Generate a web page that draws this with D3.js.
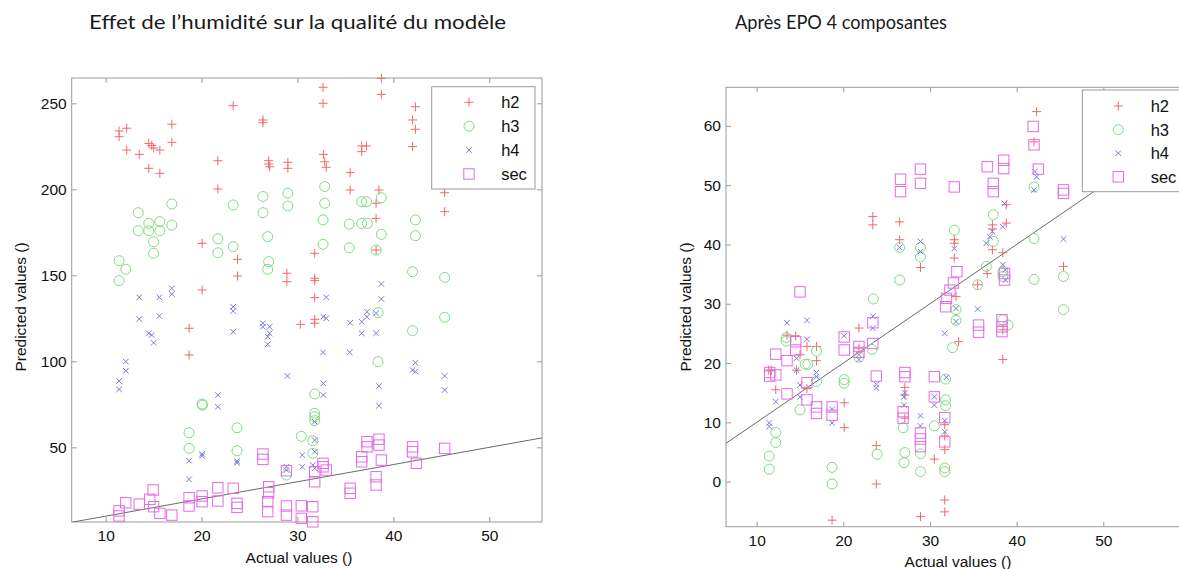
<!DOCTYPE html>
<html>
<head>
<meta charset="utf-8">
<script src="https://cdn.jsdelivr.net/npm/d3@7"></script>
<style>
  html, body { margin: 0; padding: 0; background: #ffffff; }
  svg { display: block; }
  .tick text { font-family: "Liberation Sans", Arial, sans-serif; font-size: 15.5px; fill: #111; }
</style>
</head>
<body>
<svg id="chart" width="1179" height="569"></svg>
<script>
// ---- Data: [actual, predicted] per sample ----
const seriesNames = ["h2", "h3", "h4", "sec"];
const xTicks = [10, 20, 30, 40, 50];
const yTicksLeft = [50, 100, 150, 200, 250];
const yTicksRight = [0, 10, 20, 30, 40, 50, 60];

// Humidity effect, raw model
const h2Raw = [
  [11.4,233.9],[11.4,230.6],[12.2,235.5],[12.2,222.8],[13.5,220.3],[14.5,226.7],[14.8,225.5],[15.0,224.0],
  [14.5,212.2],[15.65,222.8],[15.65,209.3],[16.9,237.8],[16.9,227.3],[18.7,119.2],[18.7,103.7],[20.06,168.6],
  [20.06,141.5],[21.7,216.6],[21.7,200.2],[23.3,248.6],[23.75,159.3],[23.75,149.6],[26.4,240.3],[26.4,238.7],
  [27.0,216.6],[27.0,214.7],[27.1,213.1],[29.0,215.7],[29.0,212.2],[28.9,151.2],[28.9,146.3],[30.3,121.5],
  [31.8,162.8],[31.8,148.3],[31.8,146.9],[31.8,137.0],[31.8,122.1],[31.8,124.4],[32.67,259.3],[32.67,250.0],
  [32.7,220.3],[32.85,216.0],[33.0,212.8],[35.5,209.7],[35.5,199.6],[36.7,225.2],[37.2,225.2],[36.7,221.9],
  [38.2,191.9],[38.2,183.1],[38.2,164.7],[38.5,199.6],[38.75,264.5],[38.75,255.2],[42.0,240.3],[42.3,248.0],
  [42.3,234.9],[42.0,224.8],[45.35,198.0],[45.35,187.0]
];
const h3Raw = [
  [11.4,158.5],[12.1,153.5],[11.4,146.9],[13.4,186.4],[13.4,175.9],[14.5,180.2],[14.5,175.9],[15.65,181.2],
  [15.65,175.9],[15.0,169.5],[15.0,162.8],[16.9,191.5],[16.9,179.2],[18.7,58.5],[18.7,49.4],[20.06,75.2],
  [20.1,74.5],[21.7,171.2],[21.7,163.1],[23.3,190.9],[23.3,166.6],[23.7,61.4],[23.7,48.0],[26.4,195.8],
  [26.4,186.4],[26.9,172.5],[27.0,157.9],[26.9,153.5],[28.85,33.9],[29.0,197.7],[29.0,190.3],[30.4,56.4],
  [31.8,81.0],[31.8,69.8],[31.8,67.8],[31.8,65.5],[31.6,53.8],[31.6,46.5],[32.84,201.6],[32.84,191.9],
  [32.67,182.2],[32.67,168.0],[35.4,179.8],[35.4,166.0],[36.7,192.8],[37.2,192.8],[36.7,180.2],[37.3,180.2],
  [38.75,195.1],[38.75,173.8],[38.2,164.7],[38.4,128.3],[38.4,99.8],[42.3,182.2],[42.3,173.0],[42.0,152.1],
  [42.0,117.8],[45.35,148.8],[45.35,125.6]
];
const h4Raw = [
  [11.4,88.5],[11.4,83.7],[12.1,99.8],[12.1,94.5],[13.5,137.2],[13.5,124.6],[14.5,116.3],[14.8,115.3],
  [15.0,110.8],[15.6,137.2],[15.6,126.3],[16.9,142.4],[16.9,139.1],[18.7,42.2],[18.7,31.4],[20.06,46.1],
  [20.06,45.1],[21.7,80.4],[21.7,73.6],[23.3,131.7],[23.3,129.2],[23.3,117.2],[23.7,42.0],[23.7,41.0],
  [26.4,122.1],[26.4,120.1],[27.1,120.1],[27.1,116.3],[26.9,114.3],[26.9,109.9],[28.95,91.5],[28.85,38.7],
  [28.85,36.8],[30.5,45.5],[30.5,38.7],[31.6,39.7],[31.8,37.8],[31.8,64.9],[31.8,54.2],[31.8,47.4],
  [32.7,125.9],[33.0,125.0],[33.0,137.2],[32.67,105.2],[32.7,87.2],[32.7,80.4],[35.5,122.4],[35.45,105.2],
  [36.7,123.0],[36.7,116.3],[37.25,128.8],[37.25,125.9],[38.2,127.9],[38.2,116.3],[38.5,85.6],[38.5,74.2],
  [38.75,145.0],[38.75,136.2],[42.0,94.9],[42.3,94.0],[42.3,99.2],[45.35,91.5],[45.35,83.3]
];
const secRaw = [
  [11.4,13.1],[11.4,10.1],[12.1,17.8],[13.5,17.0],[14.95,25.2],[14.6,19.8],[15.0,15.5],[15.65,11.6],
  [16.9,10.6],[18.7,20.7],[18.7,15.9],[20.06,21.7],[20.06,18.4],[21.7,26.5],[21.7,18.8],[23.3,26.2],
  [23.7,17.4],[23.7,15.1],[26.4,46.1],[26.4,43.0],[27.0,27.1],[27.0,23.6],[26.9,18.4],[26.9,12.6],
  [28.85,36.4],[28.85,15.9],[28.85,10.6],[30.4,16.0],[30.4,8.7],[31.6,15.5],[31.6,6.7],[31.8,30.0],
  [31.8,35.8],[32.67,40.7],[32.67,38.7],[33.0,36.8],[35.5,26.2],[35.5,23.3],[36.7,44.5],[36.7,41.6],
  [37.25,53.3],[37.25,50.3],[38.5,54.7],[38.5,51.3],[38.75,42.6],[38.2,32.9],[38.2,28.1],[42.0,50.3],
  [42.0,47.4],[42.4,40.7],[45.35,49.4]
];

// After EPO, 4 components
const h2Epo = [
  [11.4,18.8],[11.7,18.8],[12.2,15.5],[13.5,24.7],[14.5,24.6],[14.6,18.8],[15.0,21.4],[15.8,22.8],
  [15.8,15.7],[16.9,22.8],[16.9,20.4],[18.7,-6.5],[20.1,13.3],[20.1,9.1],[21.8,25.9],[21.8,22.5],
  [23.4,44.7],[23.4,43.3],[23.8,6.1],[23.8,-0.4],[26.5,43.8],[26.5,40.8],[27.1,15.9],[27.1,14.6],
  [27.1,10.7],[28.9,36.1],[28.9,-5.9],[30.5,3.8],[31.7,9.6],[31.7,7.7],[31.7,5.4],[31.7,-3.1],
  [31.7,-5.1],[32.8,40.8],[32.8,40.2],[32.8,37.7],[33.0,31.2],[33.3,23.6],[35.5,33.2],[36.6,35.1],
  [37.2,43.3],[37.2,42.6],[37.2,39.1],[38.4,38.6],[38.4,20.6],[38.4,25.6],[38.8,46.7],[38.8,43.6],
  [42.0,57.3],[42.3,62.4],[45.4,36.3]
];
const h3Epo = [
  [11.45,4.3],[11.45,2.1],[12.2,8.3],[12.2,6.6],[13.4,24.3],[13.4,23.7],[15.0,12.1],[15.6,19.8],
  [15.9,19.8],[16.9,22.0],[16.9,16.9],[18.7,2.4],[18.7,-0.4],[20.1,17.2],[20.1,16.6],[21.8,21.0],
  [23.3,22.3],[23.45,30.8],[23.9,4.6],[26.5,39.5],[26.5,34.0],[26.9,9.1],[27.1,4.9],[27.0,3.2],
  [28.9,39.5],[28.9,37.9],[28.9,4.7],[28.9,1.7],[30.5,9.4],[31.8,17.3],[31.8,13.8],[31.8,12.8],
  [31.7,2.3],[31.7,1.7],[32.6,22.6],[32.8,42.4],[33.0,29.0],[33.0,27.2],[35.5,33.2],[36.5,36.3],
  [37.3,45.0],[37.3,40.5],[38.4,35.4],[38.4,34.6],[38.4,27.3],[39.0,26.4],[42.0,49.7],[42.0,41.0],
  [42.0,34.1],[45.4,34.6],[45.4,29.0]
];
const h4Epo = [
  [11.45,9.9],[11.45,9.3],[12.2,13.5],[13.5,26.8],[14.6,20.8],[14.6,18.8],[15.0,16.3],[15.0,14.3],
  [15.8,27.2],[15.8,24.0],[16.9,18.4],[16.9,17.7],[18.7,12.2],[18.7,9.9],[20.1,24.6],[21.8,21.4],
  [21.8,20.6],[23.4,27.9],[23.4,25.9],[23.8,16.4],[23.8,15.8],[26.5,39.5],[27.1,15.0],[27.0,14.3],
  [27.0,12.9],[28.9,40.5],[28.9,38.8],[28.9,11.1],[28.9,9.4],[30.5,14.3],[30.5,12.9],[31.9,17.6],
  [31.7,10.3],[31.7,8.4],[31.7,25.0],[32.8,39.3],[33.0,29.2],[33.0,27.0],[35.5,29.1],[36.9,41.3],
  [37.2,42.2],[36.5,40.2],[38.4,43.0],[38.6,46.9],[38.4,36.6],[38.7,35.7],[38.7,34.0],[42.1,52.3],
  [42.3,51.4],[42.0,49.2],[45.4,40.9]
];
const secEpo = [
  [11.5,18.4],[11.5,17.8],[12.2,21.5],[12.2,18.0],[13.5,20.4],[13.5,14.8],[14.5,23.6],[14.5,22.2],
  [15.0,32.0],[15.8,16.7],[15.8,13.8],[16.9,12.6],[16.9,11.5],[18.7,12.6],[18.7,11.2],[20.1,24.4],
  [20.1,22.2],[21.8,22.8],[21.8,21.8],[23.4,26.8],[23.4,23.3],[23.8,17.8],[26.6,51.0],[26.6,48.9],
  [27.1,18.4],[27.1,17.7],[26.9,11.8],[26.9,10.7],[28.9,52.7],[28.9,50.3],[28.9,8.2],[28.9,7.2],
  [28.9,5.9],[30.5,17.7],[30.5,14.3],[31.7,10.8],[31.7,6.7],[31.8,29.5],[32.3,32.3],[31.9,30.9],
  [32.8,49.7],[33.1,35.4],[32.7,33.5],[35.6,26.4],[35.6,25.2],[36.6,53.1],[37.3,50.3],[37.3,48.9],
  [38.3,27.3],[38.3,26.1],[38.3,25.3],[38.5,54.2],[38.5,52.8],[38.6,35.1],[38.6,34.0],[41.9,59.9],
  [42.0,56.8],[42.5,52.7],[45.4,49.2],[45.4,48.6]
];

// ---- Styling ----
const colors = { h2: "#f06a6a", h3: "#7edc7e", h4: "#7a7ae0", sec: "#e46ae6" };
const frameColor = "#9a9a9a";

const svg = d3.select("#chart");

// Marker glyphs, centred on (0,0)
function drawMarker(sel, name) {
  const c = colors[name];
  if (name === "h2") {
    sel.append("path").attr("d", "M-4.5,0H4.5M0,-4.5V4.5")
      .attr("stroke", c).attr("stroke-width", 1).attr("fill", "none");
  } else if (name === "h3") {
    sel.append("circle").attr("r", 5)
      .attr("stroke", c).attr("stroke-width", 1).attr("fill", "none");
  } else if (name === "h4") {
    sel.append("path").attr("d", "M-2.8,-2.8L2.8,2.8M-2.8,2.8L2.8,-2.8")
      .attr("stroke", c).attr("stroke-width", 1).attr("fill", "none");
  } else {
    sel.append("rect").attr("x", -5.2).attr("y", -5.2).attr("width", 10.4).attr("height", 10.4)
      .attr("stroke", c).attr("stroke-width", 1).attr("fill", "none");
  }
}

function drawPanel(cfg) {
  const g = svg.append("g");
  const x = d3.scaleLinear().domain(cfg.xDomain).range([cfg.left, cfg.right]);
  const y = d3.scaleLinear().domain(cfg.yDomain).range([cfg.bottom, cfg.top]);

  const clipId = "clip-" + cfg.id;
  svg.append("defs").append("clipPath").attr("id", clipId)
    .append("rect").attr("x", cfg.left).attr("y", cfg.top)
    .attr("width", cfg.right - cfg.left).attr("height", cfg.bottom - cfg.top);

  // axes (ticks point inwards, box on all sides)
  const styleAxis = a => {
    a.select(".domain").remove();
    a.selectAll(".tick line").attr("stroke", frameColor);
  };
  g.append("g").attr("transform", `translate(0,${cfg.bottom})`)
    .call(d3.axisBottom(x).tickValues(xTicks).tickSizeInner(-5).tickSizeOuter(0).tickPadding(8))
    .call(styleAxis);
  g.append("g").attr("transform", `translate(0,${cfg.top})`)
    .call(d3.axisTop(x).tickValues(xTicks).tickSizeInner(-5).tickSizeOuter(0).tickFormat(""))
    .call(styleAxis);
  g.append("g").attr("transform", `translate(${cfg.left},0)`)
    .call(d3.axisLeft(y).tickValues(cfg.yTicks).tickSizeInner(-5).tickSizeOuter(0).tickPadding(5))
    .call(styleAxis);
  g.append("g").attr("transform", `translate(${cfg.right},0)`)
    .call(d3.axisRight(y).tickValues(cfg.yTicks).tickSizeInner(-5).tickSizeOuter(0).tickFormat(""))
    .call(styleAxis);
  g.selectAll(".tick text").attr("fill", "#111");

  g.append("rect")
    .attr("x", cfg.left).attr("y", cfg.top)
    .attr("width", cfg.right - cfg.left).attr("height", cfg.bottom - cfg.top)
    .attr("fill", "none").attr("stroke", frameColor).attr("stroke-width", 1);

  // identity line y = x
  const lo = cfg.xDomain[0], hi = cfg.xDomain[1];
  g.append("line").attr("clip-path", `url(#${clipId})`)
    .attr("x1", x(lo)).attr("y1", y(lo)).attr("x2", x(hi)).attr("y2", y(hi))
    .attr("stroke", "#6a6a6a").attr("stroke-width", 1);

  // data series
  cfg.series.forEach((data, i) => {
    const name = seriesNames[i];
    g.append("g").selectAll("g").data(data).join("g")
      .attr("transform", d => `translate(${x(d[0])},${y(d[1])})`)
      .each(function () { drawMarker(d3.select(this), name); });
  });

  // legend
  const L = cfg.legend;
  const lg = g.append("g");
  lg.append("rect").attr("x", L.x).attr("y", L.y).attr("width", L.w).attr("height", L.h)
    .attr("fill", "#fff").attr("stroke", frameColor).attr("stroke-width", 1);
  seriesNames.forEach((name, i) => {
    const cy = L.y + L.first + i * L.step;
    const m = lg.append("g").attr("transform", `translate(${L.x + L.mx},${cy})`);
    drawMarker(m, name);
    lg.append("text").attr("x", L.x + L.tx).attr("y", cy).attr("dy", "0.36em")
      .attr("font-family", "Liberation Sans, Arial, sans-serif").attr("font-size", 16.5)
      .attr("fill", "#111").text(name);
  });

  // titles and axis labels
  svg.append("text").attr("x", cfg.titleX).attr("y", 29)
    .attr("font-family", "Lato, 'Open Sans', sans-serif").attr("font-size", 20)
    .attr("textLength", cfg.titleW).attr("lengthAdjust", "spacingAndGlyphs")
    .attr("fill", "#1a1a1a").text(cfg.title);
  svg.append("text").attr("x", cfg.xLabelX).attr("y", cfg.xLabelY).attr("text-anchor", "middle")
    .attr("font-family", "Liberation Sans, Arial, sans-serif").attr("font-size", 15.5)
    .attr("fill", "#111").text("Actual values ()");
  svg.append("text").attr("transform", `translate(${cfg.yLabelX},${cfg.yLabelY}) rotate(-90)`)
    .attr("text-anchor", "middle")
    .attr("font-family", "Liberation Sans, Arial, sans-serif").attr("font-size", 15.5)
    .attr("fill", "#111").text("Predicted values ()");
}

drawPanel({
  id: "raw", left: 71.7, right: 542, top: 78, bottom: 522,
  xDomain: [6.46, 55.5], yDomain: [6.6, 264.7], yTicks: yTicksLeft,
  series: [h2Raw, h3Raw, h4Raw, secRaw],
  legend: { x: 431.7, y: 86.7, w: 103.3, h: 102.3, first: 15.6, step: 23.9, mx: 37.3, tx: 69.5 },
  title: "Effet de l’humidité sur la qualité du modèle", titleX: 89, titleW: 417,
  xLabelX: 299, xLabelY: 563, yLabelX: 26, yLabelY: 307
});

drawPanel({
  id: "epo", left: 726, right: 1190, top: 87.3, bottom: 526.7,
  xDomain: [6.46, 60], yDomain: [-7.6, 66.5], yTicks: yTicksRight,
  series: [h2Epo, h3Epo, h4Epo, secEpo],
  legend: { x: 1082.3, y: 90, w: 110, h: 101.7, first: 16, step: 23.6, mx: 36, tx: 68.4 },
  title: "Après EPO 4 composantes", titleX: 735, titleW: 212,
  xLabelX: 958, xLabelY: 567, yLabelX: 691, yLabelY: 307
});
</script>
</body>
</html>
